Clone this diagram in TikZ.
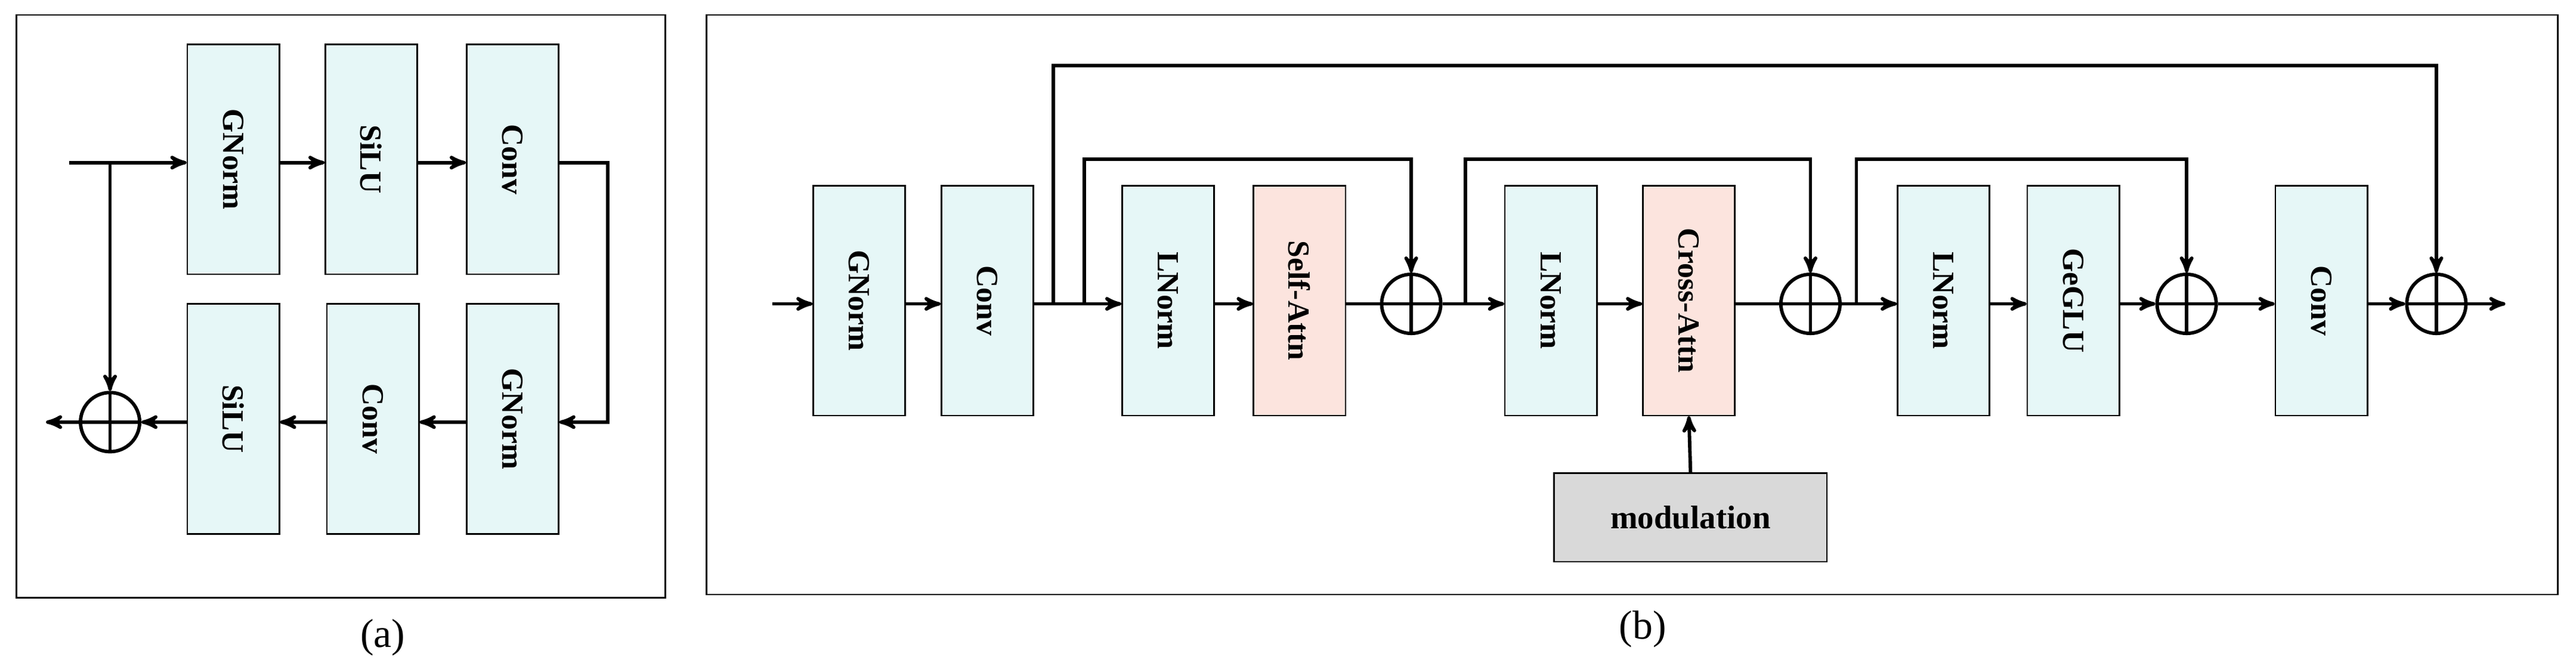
\documentclass[tikz,border=0pt]{standalone}
\usepackage{fontspec}
\setmainfont{Liberation Serif}
\usetikzlibrary{arrows,positioning}
\definecolor{boxcyan}{HTML}{E6F7F7}
\definecolor{boxpink}{HTML}{FCE4DE}
\definecolor{boxgray}{HTML}{D9D9D9}
\tikzset{
    blk/.style={rectangle, draw=black, line width=0.8pt, fill=boxcyan,
        minimum width=1.68cm, minimum height=4.2cm, inner sep=0pt},
    attn/.style={blk, fill=boxpink},
    lbl/.style={rotate=-90, font=\fontsize{16}{18}\selectfont\bfseries},
    sum/.style={circle, draw, line width=1.8pt, minimum size=1.08cm, inner sep=0pt,
        path picture={\draw[line width=1.8pt] (path picture bounding box.north) -- (path picture bounding box.south)
            (path picture bounding box.west) -- (path picture bounding box.east);}},
    arrow/.style={->, >=stealth', line width=1.8pt},
    wire/.style={line width=1.8pt}
}
\begin{document}
\begin{tikzpicture}[x=0.03cm, y=-0.03cm]
    \useasboundingbox (0,0) rectangle (1568,409);
    % panel (a)
    \draw[line width=0.8pt] (10,9) rectangle (405,364);
    \node[font=\fontsize{21}{24}\selectfont] (la) at (233,388) {(a)};
    \node[blk] (gn1) at (142,97) {}; \node[lbl] at (gn1) {GNorm};
    \node[blk] (si1) at (226,97) {}; \node[lbl] at (si1) {SiLU};
    \node[blk] (cv1) at (312,97) {}; \node[lbl] at (cv1) {Conv};
    \node[blk] (gn2) at (312,255) {}; \node[lbl] at (gn2) {GNorm};
    \node[blk] (cv2) at (227,255) {}; \node[lbl] at (cv2) {Conv};
    \node[blk] (si2) at (142,255) {}; \node[lbl] at (si2) {SiLU};
    \node[sum] (sa) at (67,257) {};
    \coordinate (ina) at (42,99);
    \coordinate (ba) at (67,99);
    \coordinate (ra) at (370,99);
    \coordinate (outa) at (28,257);
    \draw[arrow] (ina) -- (gn1.west |- ina);
    \draw[arrow] (ba) -- (sa.north);
    \draw[arrow] (gn1.east |- ina) -- (si1.west |- ina);
    \draw[arrow] (si1.east |- ina) -- (cv1.west |- ina);
    \draw[arrow] (cv1.east |- ina) -- (ra) |- (gn2.east |- sa);
    \draw[arrow] (gn2.west |- sa) -- (cv2.east |- sa);
    \draw[arrow] (cv2.west |- sa) -- (si2.east |- sa);
    \draw[arrow] (si2.west |- sa) -- (sa.east);
    \draw[arrow] (sa.west) -- (outa);
    % panel (b)
    \draw[line width=0.8pt] (430,9) rectangle (1557,362);
    \node[font=\fontsize{21}{24}\selectfont] (lb) at (1000,383) {(b)};
    \node[blk] (bgn) at (523,183) {}; \node[lbl] at (bgn) {GNorm};
    \node[blk] (bcv) at (601,183) {}; \node[lbl] at (bcv) {Conv};
    \node[blk] (ln1) at (711,183) {}; \node[lbl] at (ln1) {LNorm};
    \node[attn] (sat) at (791,183) {}; \node[lbl] at (sat) {Self-Attn};
    \node[sum] (s1) at (859,185) {};
    \node[blk] (ln2) at (944,183) {}; \node[lbl] at (ln2) {LNorm};
    \node[attn] (cat) at (1028,183) {}; \node[lbl] at (cat) {Cross-Attn};
    \node[sum] (s2) at (1102,185) {};
    \node[blk] (ln3) at (1183,183) {}; \node[lbl] at (ln3) {LNorm};
    \node[blk] (geg) at (1262,183) {}; \node[lbl] at (geg) {GeGLU};
    \node[sum] (s3) at (1331,185) {};
    \node[blk] (bcv2) at (1413,183) {}; \node[lbl] at (bcv2) {Conv};
    \node[sum] (s4) at (1483,185) {};
    \node[rectangle, draw, line width=0.8pt, fill=boxgray, minimum width=4.98cm,
        minimum height=1.62cm, font=\fontsize{17}{19}\selectfont\bfseries] (mod) at (1029,315) {modulation};
    \coordinate (inb) at (470,185);
    \coordinate (outb) at (1525,185);
    \coordinate (k1) at (641,185);
    \coordinate (k2) at (660,185);
    \coordinate (k3) at (892,185);
    \coordinate (k4) at (1130,185);
    \draw[arrow] (inb) -- (bgn.west |- inb);
    \draw[arrow] (bgn.east |- inb) -- (bcv.west |- inb);
    \draw[arrow] (bcv.east |- inb) -- (ln1.west |- inb);
    \draw[arrow] (ln1.east |- inb) -- (sat.west |- inb);
    \draw[wire] (sat.east |- inb) -- (s1.west);
    \draw[arrow] (s1.east) -- (ln2.west |- inb);
    \draw[arrow] (ln2.east |- inb) -- (cat.west |- inb);
    \draw[wire] (cat.east |- inb) -- (s2.west);
    \draw[arrow] (s2.east) -- (ln3.west |- inb);
    \draw[arrow] (ln3.east |- inb) -- (geg.west |- inb);
    \draw[arrow] (geg.east |- inb) -- (s3.west);
    \draw[arrow] (s3.east) -- (bcv2.west |- inb);
    \draw[arrow] (bcv2.east |- inb) -- (s4.west);
    \draw[arrow] (s4.east) -- (outb);
    \draw[arrow] (k1) -- ++(0,-145) -| (s4.north);
    \draw[arrow] (k2) -- ++(0,-88) -| (s1.north);
    \draw[arrow] (k3) -- ++(0,-88) -| (s2.north);
    \draw[arrow] (k4) -- ++(0,-88) -| (s3.north);
    \draw[arrow] (mod.north) -- (cat.south);
\end{tikzpicture}
\end{document}
